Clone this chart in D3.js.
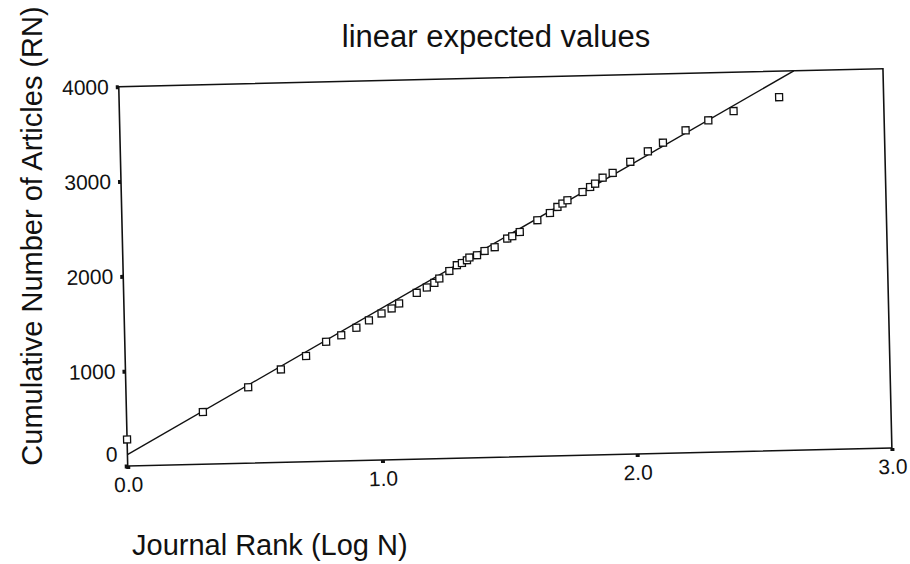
<!DOCTYPE html>
<html>
<head>
<meta charset="utf-8">
<script src="https://cdn.jsdelivr.net/npm/d3@7"></script>
<style>
    body { margin: 0; background: #fff; }
    svg { display: block; font-family: "Liberation Sans", Arial, sans-serif; }
    .tick line { stroke: #111; stroke-width: 4; }
</style>
</head>
<body>
<div class="graph_container"></div>
<script>
// journal rank on a log scale and the running total of articles
const rankLog = [0, 0.30, 0.48, 0.61, 0.71, 0.79, 0.85, 0.91, 0.96, 1.01, 1.05, 1.08,
    1.15, 1.19, 1.22, 1.24, 1.28, 1.31, 1.33, 1.35, 1.36, 1.39, 1.42, 1.46, 1.51, 1.53,
    1.56, 1.63, 1.68, 1.71, 1.73, 1.75, 1.81, 1.84, 1.86, 1.89, 1.93, 2.00, 2.07, 2.13,
    2.22, 2.31, 2.41, 2.59];
const cumArticles = [280, 550, 800, 980, 1115, 1260, 1325, 1400, 1475, 1545, 1595, 1645,
    1753, 1807, 1854, 1899, 1976, 2035, 2057, 2085, 2112, 2135, 2178, 2215, 2303, 2326,
    2369, 2489, 2562, 2624, 2658, 2692, 2775, 2826, 2860, 2921, 2969, 3081, 3187, 3275,
    3399, 3499, 3590, 3726];

// the straight "expected" line (two ends)
const fitX = [0, 2.65];
const fitY = [120, 4000];

const xTicks = [0, 1, 2, 3];
const yTicks = [0, 1000, 2000, 3000, 4000];

// dimensions
const W = 910, H = 564;
const left = 127.7, bottom = 466;
const width = 764.4, height = 379.4;
const tilt = -1.35; // the scanned page sits slightly crooked

const svg = d3.select(".graph_container").append("svg")
    .attr("width", W).attr("height", H);

const g = svg.append("g")
    .attr("transform", `translate(${left},${bottom}) rotate(${tilt}) translate(0,${-height})`);

const x = d3.scaleLinear().domain([0, 3]).range([0, width]);
const y = d3.scaleLinear().domain([0, 4000]).range([height, 0]);

// frame
g.append("rect")
    .attr("width", width).attr("height", height)
    .attr("fill", "none").attr("stroke", "#111").attr("stroke-width", 1.6);

// axes
const xAxis = g.append("g")
    .attr("transform", `translate(0,${height})`)
    .call(d3.axisBottom(x).tickValues(xTicks).tickFormat(d3.format(".1f")).tickSize(3).tickPadding(8).tickSizeOuter(0));
xAxis.select(".domain").remove();

const yAxis = g.append("g")
    .call(d3.axisLeft(y).tickValues(yTicks).tickFormat(d3.format("d")).tickSize(3).tickPadding(7).tickSizeOuter(0));
yAxis.select(".domain").remove();
// the zero label is lifted off the corner
yAxis.selectAll(".tick text").filter(d => d === 0).attr("y", -12);

[xAxis, yAxis].forEach(a => a
    .attr("font-family", "'Liberation Sans', Arial, sans-serif")
    .attr("font-size", 21)
    .selectAll(".tick text").attr("fill", "#111"));

// expected line
g.append("line")
    .attr("x1", x(fitX[0])).attr("y1", y(fitY[0]))
    .attr("x2", x(fitX[1])).attr("y2", y(fitY[1]))
    .attr("stroke", "#111").attr("stroke-width", 1.4);

// observed points
const s = 7;
g.selectAll(".pt").data(rankLog).enter().append("rect")
    .attr("class", "pt")
    .attr("x", d => x(d) - s / 2)
    .attr("y", (d, i) => y(cumArticles[i]) - s / 2)
    .attr("width", s).attr("height", s)
    .attr("fill", "#fff").attr("stroke", "#111").attr("stroke-width", 1.3);

// title
svg.append("text")
    .attr("x", 496).attr("y", 47)
    .attr("text-anchor", "middle")
    .attr("font-size", 31).attr("fill", "#111")
    .text("linear expected values");

// y label
svg.append("text")
    .attr("transform", "translate(42,236) rotate(-90)")
    .attr("text-anchor", "middle")
    .attr("font-size", 29).attr("fill", "#111")
    .text("Cumulative Number of Articles (RN)");

// x label
svg.append("text")
    .attr("x", 132).attr("y", 555)
    .attr("font-size", 29).attr("fill", "#111")
    .text("Journal Rank (Log N)");
</script>
</body>
</html>
